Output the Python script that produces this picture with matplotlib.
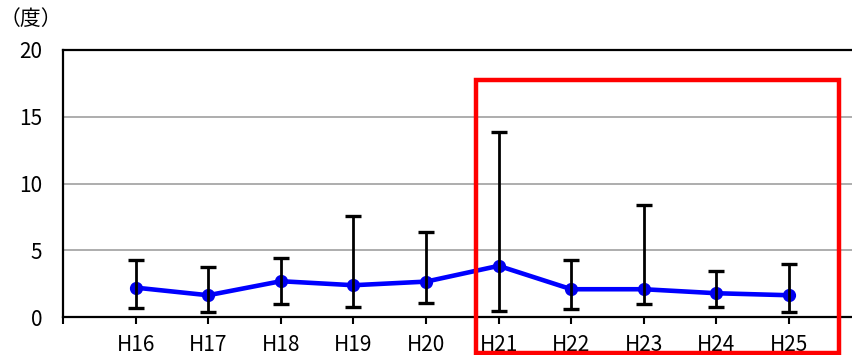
import matplotlib
matplotlib.use("Agg")
import matplotlib.pyplot as plt
from matplotlib.patches import Rectangle
import numpy as np

categories = ["H16", "H17", "H18", "H19", "H20", "H21", "H22", "H23", "H24", "H25"]
mean_vals = [2.22, 1.65, 2.7, 2.4, 2.67, 3.85, 2.1, 2.1, 1.8, 1.65]
upper_vals = [4.27, 3.8, 4.4, 7.55, 6.35, 13.85, 4.25, 8.42, 3.5, 3.97]
lower_vals = [0.72, 0.4, 1.0, 0.8, 1.1, 0.5, 0.65, 0.97, 0.8, 0.42]
y_ticks = [0, 5, 10, 15, 20]
unit_label = "（度）"

plt.rcParams['font.family'] = ['Liberation Sans Narrow', 'Noto Sans CJK JP', 'DejaVu Sans']

fig = plt.figure(figsize=(8.52, 3.55), dpi=100)
W, H = 852, 355
ax = fig.add_axes([63 / W, (H - 317.3) / H, (W - 63) / W, (317.3 - 50) / H])

x = np.arange(len(categories))
mean = np.array(mean_vals)
yerr = np.array([mean - np.array(lower_vals), np.array(upper_vals) - mean])

ax.plot(x, mean, color="#0000ff", lw=3.3, marker="o", ms=8.5,
        markerfacecolor="#0000ee", markeredgecolor="#0000ee", zorder=3)
ax.errorbar(x, mean, yerr=yerr, fmt="none", ecolor="black", elinewidth=2.0,
            capsize=5.5, capthick=2.4, zorder=4)

ax.set_xlim(-1, (W - 136.7) / 72.5)
ax.set_ylim(0, 20)
ax.set_yticks(y_ticks)
ax.set_xticks(np.concatenate([[-1], x]))
ax.set_xticklabels([""] + categories, fontsize=15)
ax.tick_params(axis="x", direction="out", length=5, width=1.5, pad=7, colors="black")
ax.tick_params(axis="y", length=0, pad=15, labelsize=15)

ax.grid(axis="y", color="#a0a0a0", lw=1.2, zorder=0)
ax.set_axisbelow(True)
for s in ["left", "bottom", "top"]:
    ax.spines[s].set_linewidth(1.6)
    ax.spines[s].set_color("black")
ax.spines["right"].set_visible(False)

fig.text(0 / W, 1 - 19 / H, unit_label, fontsize=15, va="center", ha="left",
         family=['Noto Sans CJK JP', 'DejaVu Sans'])

# highlight rectangle (annotation box around H21-H25)
x0 = (477 - 136.7) / 72.5
x1 = (839.3 - 136.7) / 72.5
y0 = (317.3 - 352.5) / 13.36
y1 = (317.3 - 80) / 13.36
rect = Rectangle((x0, y0), x1 - x0, y1 - y0, fill=False, edgecolor="#ff0000",
                 lw=3.2, clip_on=False, zorder=5)
ax.add_patch(rect)

fig.savefig("out.png", dpi=100)
